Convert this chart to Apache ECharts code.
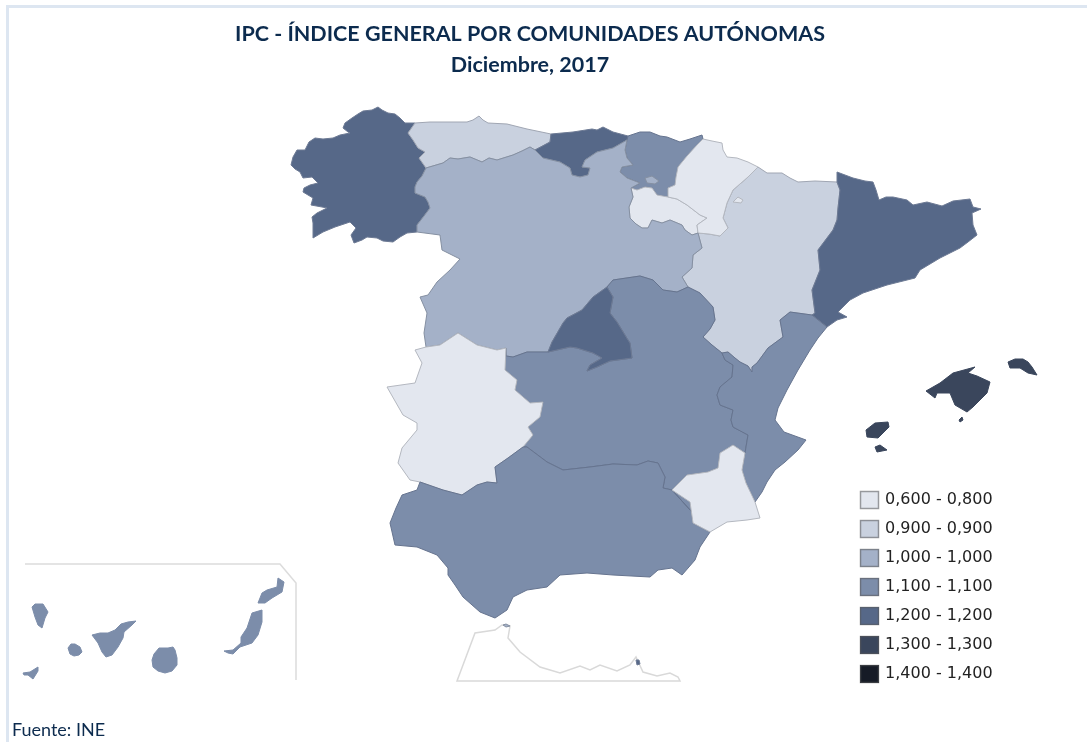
<!DOCTYPE html>
<html>
<head>
<meta charset="utf-8">
<title>IPC por comunidades</title>
<script src="https://cdn.jsdelivr.net/npm/echarts@6/dist/echarts.min.js"></script>
<style>
  html, body { margin: 0; padding: 0; background: #fff; }
  #chart { width: 1087px; height: 742px; }
</style>
</head>
<body>
<div id="chart"></div>
<script>
// chart values
const regionNames = ['Galicia', 'Asturias', 'Cantabria', 'País Vasco', 'La Rioja', 'Aragón', 'Navarra', 'Cataluña',
  'Castilla y León', 'Madrid', 'Castilla-La Mancha', 'C. Valenciana', 'Extremadura', 'Andalucía', 'Murcia',
  'Baleares', 'Canarias', 'Ceuta', 'Melilla'];
const regionValues = [1.2, 0.9, 1.2, 1.1, 0.8, 0.9, 0.8, 1.2, 1.0, 1.2, 1.1, 1.1, 0.8, 1.1, 0.8, 1.3, 1.1, 1.0, 1.2];
const pieceLabels = ['0,600 - 0,800', '0,900 - 0,900', '1,000 - 1,000', '1,100 - 1,100', '1,200 - 1,200', '1,300 - 1,300', '1,400 - 1,400'];
const pieceMins = [0.6, 0.9, 1.0, 1.1, 1.2, 1.3, 1.4];
const pieceMaxs = [0.8, 0.9, 1.0, 1.1, 1.2, 1.3, 1.4];
const pieceColors = ['#e3e7ef', '#c9d1df', '#a4b1c8', '#7c8daa', '#566888', '#3a465c', '#161b26'];
const pieceBorders = ['#b4b8c0', '#a0a6b3', '#8590a2', '#66748f', '#6d7a94', '#566176', '#161b26'];

// shared boundary lines of the base map
const coastGalicia = [[415,123],[405,123],[400,118],[395,114],[388,113],[382,110],[378,107],[372,110],[363,111],[358,114],[352,118],[345,123],[343,128],[348,132],[350,133],[340,135],[333,138],[323,139],[315,138],[309,142],[305,150],[297,150],[293,157],[291,165],[295,169],[300,172],[303,178],[312,177],[318,183],[310,185],[304,188],[303,192],[308,195],[313,198],[311,205],[322,207],[327,208],[317,213],[312,217],[313,223],[313,238],[323,232],[335,227],[350,222],[356,228],[351,235],[354,243],[362,240],[367,237],[377,238],[383,241],[393,242],[400,237],[407,233],[417,232]];
const galiciaCyl = [[417,232],[417,225],[424,216],[430,208],[428,202],[425,197],[415,193],[415,187],[417,182],[422,176],[426,168]];
const galiciaAsturias = [[426,168],[419,158],[425,152],[418,148],[413,140],[408,133],[415,123]];
const coastAsturias = [[415,123],[430,122],[447,122],[467,122],[473,120],[479,116],[483,120],[488,123],[507,124],[527,129],[551,134]];
const asturiasCantabria = [[551,134],[550,142],[535,150]];
const asturiasCyl = [[535,150],[530,147],[522,151],[513,155],[497,160],[489,158],[482,162],[470,157],[458,159],[450,158],[443,163],[426,168]];
const coastCantabria = [[551,134],[562,133],[573,132],[592,129],[597,130],[603,127],[613,132],[628,136],[627,140]];
const cantabriaCyl = [[627,140],[613,148],[597,152],[585,160],[582,167],[590,168],[588,175],[580,177],[572,175],[570,168],[560,162],[543,158],[535,150]];
const coastPaisVasco = [[628,136],[634,134],[640,132],[650,132],[660,136],[667,137],[680,142],[690,139],[702,135],[703,139]];
const paisVascoNavarra = [[703,139],[697,145],[687,156],[678,167],[676,177],[675,185],[668,188],[668,197]];
const paisVascoRioja = [[631,188],[637,190],[645,187],[652,188],[657,195],[668,197]];
const paisVascoCyl = [[627,140],[625,150],[627,158],[633,165],[622,167],[620,172],[627,178],[640,183],[631,188]];
const riojaNavarra = [[668,197],[677,199],[687,205],[700,215],[707,218],[697,225],[698,233]];
const riojaCyl = [[631,188],[633,197],[629,207],[630,218],[636,224],[642,228],[648,228],[652,220],[662,223],[670,220],[682,225],[685,230],[692,235],[698,233]];
const coastNavarra = [[703,139],[712,141],[722,143],[723,150],[727,157],[737,158],[748,162],[758,167]];
const navarraAragon = [[758,167],[748,177],[733,190],[727,203],[723,218],[728,228],[720,236],[709,234],[698,233]];
const northAragon = [[758,167],[767,173],[782,173],[790,178],[798,182],[815,181],[837,182]];
const aragonCataluna = [[837,182],[840,190],[838,208],[837,220],[833,230],[818,250],[820,270],[812,290],[815,313],[812,315]];
const aragonValencia = [[812,315],[790,312],[780,320],[783,337],[768,348],[757,363],[752,367],[752,372],[748,366],[740,362],[735,358],[728,352],[722,353]];
const aragonMancha = [[722,353],[712,345],[703,337],[710,329],[715,320],[713,307],[700,293],[688,287]];
const aragonCyl = [[688,287],[682,277],[692,268],[693,255],[702,248],[698,233]];
const northCataluna = [[837,182],[837,172],[845,175],[853,178],[865,181],[873,182],[876,190],[879,200],[886,197],[893,197],[907,200],[913,205],[927,202],[942,206],[953,201],[970,199],[973,207],[981,209],[972,213],[973,225],[977,235],[968,242],[960,248],[940,258],[920,270],[915,278],[887,285],[863,293],[850,300],[838,312],[847,317],[837,320],[827,327]];
const catalunaValencia = [[827,327],[812,315]];
const coastValencia = [[827,327],[818,338],[810,350],[798,370],[787,390],[778,408],[775,420],[784,432],[795,436],[806,440],[798,450],[785,462],[775,470],[767,482],[762,492],[755,502]];
const valenciaMurcia = [[745,453],[742,470],[746,483],[755,502]];
const valenciaMancha = [[722,353],[725,360],[733,365],[732,377],[720,387],[717,395],[720,405],[733,410],[731,420],[733,427],[748,435],[745,453]];
const manchaMurcia = [[672,490],[687,475],[708,472],[718,468],[720,453],[733,445],[745,453]];
const coastMurcia = [[755,502],[760,518],[747,520],[727,522],[710,532]];
const murciaAndalucia = [[710,532],[693,523],[690,502],[672,490]];
const manchaAndalucia = [[672,490],[663,488],[665,477],[658,463],[648,461],[637,465],[613,464],[590,467],[563,470],[547,462],[527,447],[523,447]];
const extremaduraMancha = [[506,348],[505,370],[517,380],[515,390],[530,403],[543,402],[540,417],[528,427],[533,435],[523,447]];
const extremaduraAndalucia = [[523,447],[508,458],[495,467],[497,483],[487,482],[477,485],[462,495],[443,490],[420,482]];
const westExtremadura = [[420,482],[410,480],[398,463],[402,448],[417,430],[417,423],[403,415],[387,387],[415,383],[422,363],[415,350],[426,347]];
const extremaduraCyl = [[426,347],[440,345],[458,333],[477,345],[497,350],[506,348]];
const coastAndalucia = [[710,532],[700,547],[695,560],[682,575],[672,568],[658,570],[650,577],[613,575],[587,573],[560,575],[547,587],[527,590],[513,597],[507,610],[495,618],[480,612],[463,597],[455,585],[448,575],[448,568],[437,555],[417,547],[395,545],[390,523],[396,508],[402,495],[417,490],[420,482]];
const westCyl = [[417,232],[440,235],[442,250],[460,259],[450,270],[437,282],[428,295],[420,297],[427,313],[424,333],[426,347]];
const cylMancha = [[506,348],[506,356],[513,357],[527,352],[548,352]];
const cylMadrid = [[548,352],[552,342],[563,323],[567,318],[582,310],[593,297],[607,287]];
const cylManchaEast = [[607,287],[613,280],[640,276],[653,280],[663,290],[677,292],[688,287]];
const madridMancha = [[548,352],[570,347],[577,348],[593,353],[602,358],[590,365],[587,371],[597,367],[610,361],[632,358],[630,343],[628,340],[617,322],[610,313],[613,297],[607,287]];

const trevino = [[645,178],[652,176],[659,181],[655,184],[647,183]];
const petilla = [[733,202],[738,197],[743,200],[741,203]];
const mallorca = [[926,391],[940,383],[953,373],[975,367],[968,373],[977,376],[990,382],[987,393],[973,407],[967,412],[955,405],[950,393],[937,393],[935,398]];
const menorca = [[1008,362],[1015,359],[1023,359],[1028,362],[1032,367],[1037,375],[1028,373],[1020,368],[1010,368]];
const cabrera = [[959,420],[962,417],[963,420],[960,422]];
const ibiza = [[866,430],[875,423],[888,422],[889,427],[884,432],[878,438],[867,437]];
const formentera = [[875,447],[880,445],[887,450],[877,452]];
const laPalma = [[32,607],[35,604],[43,604],[48,612],[45,618],[42,628],[38,625],[35,617]];
const gomera = [[68,648],[71,644],[75,644],[80,647],[82,652],[79,655],[74,656],[70,654]];
const hierro = [[23,673],[30,672],[38,667],[38,671],[33,679],[28,675],[24,675]];
const tenerife = [[92,635],[100,633],[108,633],[115,630],[121,624],[128,622],[136,621],[132,625],[124,632],[123,638],[118,647],[112,655],[106,657],[102,652],[98,643]];
const granCanaria = [[152,660],[154,654],[159,648],[163,648],[168,648],[173,647],[175,650],[177,658],[177,665],[172,671],[165,673],[158,671],[153,667]];
const fuerteventura = [[224,651],[233,650],[241,643],[241,637],[247,628],[252,613],[262,610],[262,622],[258,635],[252,643],[240,647],[233,654],[228,653]];
const lanzarote = [[258,603],[262,593],[267,590],[277,587],[278,578],[284,582],[282,592],[272,598],[265,603]];
const marruecos = [[457,681],[475,633],[495,630],[502,625],[510,626],[508,638],[520,652],[540,667],[560,673],[580,666],[590,670],[600,665],[617,671],[630,665],[636,657],[643,672],[657,676],[670,673],[678,677],[680,681]];
const ceuta = [[503,625],[506,624],[510,626],[506,627]];
const melilla = [[636,660],[639,660],[640,664],[637,665]];

const softEdgeRegions = ['Baleares', 'Canarias'];

const rev = a => a.slice().reverse();
const ring = (...parts) => parts.flat().map(p => [p[0], -p[1]]);
const feature = (name, ...rings) => ({
  type: 'Feature',
  properties: { name: name },
  geometry: { type: 'MultiPolygon', coordinates: rings.map(r => [r]) }
});

const features = [
  feature('Marruecos', ring(marruecos)),
  feature('Galicia', ring(coastGalicia, galiciaCyl, galiciaAsturias)),
  feature('Asturias', ring(coastAsturias, asturiasCantabria, asturiasCyl, galiciaAsturias)),
  feature('Cantabria', ring(coastCantabria, cantabriaCyl, rev(asturiasCantabria))),
  feature('País Vasco', ring(coastPaisVasco, paisVascoNavarra, rev(paisVascoRioja), rev(paisVascoCyl))),
  feature('La Rioja', ring(paisVascoRioja, riojaNavarra, rev(riojaCyl))),
  feature('Aragón', ring(northAragon, aragonCataluna, aragonValencia, aragonMancha, aragonCyl, rev(navarraAragon))),
  feature('Navarra', ring(coastNavarra, navarraAragon, rev(riojaNavarra), rev(paisVascoNavarra)), ring(petilla)),
  feature('Cataluña', ring(northCataluna, catalunaValencia, rev(aragonCataluna))),
  feature('Castilla y León', ring(westCyl, extremaduraCyl, cylMancha, cylMadrid, cylManchaEast, aragonCyl, rev(riojaCyl), rev(paisVascoCyl), cantabriaCyl, asturiasCyl, rev(galiciaCyl)), ring(trevino)),
  feature('Castilla-La Mancha', ring(cylMancha, madridMancha, cylManchaEast, rev(aragonMancha), valenciaMancha, rev(manchaMurcia), manchaAndalucia, rev(extremaduraMancha))),
  feature('Madrid', ring(cylMadrid, rev(madridMancha))),
  feature('C. Valenciana', ring(coastValencia, rev(valenciaMurcia), rev(valenciaMancha), rev(aragonValencia), rev(catalunaValencia))),
  feature('Extremadura', ring(extremaduraCyl, extremaduraMancha, extremaduraAndalucia, westExtremadura)),
  feature('Andalucía', ring(coastAndalucia, rev(extremaduraAndalucia), rev(manchaAndalucia), murciaAndalucia)),
  feature('Murcia', ring(manchaMurcia, valenciaMurcia, coastMurcia, murciaAndalucia)),
  feature('Baleares', ring(mallorca), ring(menorca), ring(cabrera), ring(ibiza), ring(formentera)),
  feature('Canarias', ring(laPalma), ring(gomera), ring(hierro), ring(tenerife), ring(granCanaria), ring(fuerteventura), ring(lanzarote)),
  feature('Ceuta', ring(ceuta)),
  feature('Melilla', ring(melilla))
];
echarts.registerMap('espana', { type: 'FeatureCollection', features: features });

const pieceIndex = v => pieceMins.findIndex((m, i) => v >= m && v <= pieceMaxs[i]);
const seriesData = regionNames.map((name, i) => {
  const k = pieceIndex(regionValues[i]);
  return {
    name: name,
    value: regionValues[i],
    itemStyle: {
      borderColor: softEdgeRegions.includes(name) ? pieceColors[k] : pieceBorders[k],
      borderWidth: 1
    }
  };
});

const titleColor = '#0c2b4e';
const myChart = echarts.init(document.getElementById('chart'), null, { renderer: 'canvas' });

const option = {
  animation: false,
  backgroundColor: '#fff',
  title: [
    { text: 'IPC - ÍNDICE GENERAL POR COMUNIDADES AUTÓNOMAS', left: 525, top: 18, textAlign: 'center',
      textStyle: { fontFamily: 'Lato', fontWeight: 'bold', fontSize: 21.5, color: titleColor } },
    { text: 'Diciembre, 2017', left: 525, top: 49, textAlign: 'center',
      textStyle: { fontFamily: 'Lato', fontWeight: 'bold', fontSize: 21.5, color: titleColor } },
    { text: 'Fuente: INE', left: 7, top: 716,
      textStyle: { fontFamily: 'Lato', fontWeight: 'normal', fontSize: 18, color: titleColor } }
  ],
  visualMap: {
    type: 'piecewise',
    orient: 'vertical',
    inverse: true,
    align: 'left',
    seriesIndex: 0,
    left: 860,
    top: 491,
    padding: 0,
    itemWidth: 19,
    itemHeight: 18,
    itemGap: 11,
    itemSymbol: 'rect',
    textGap: 6,
    selectedMode: false,
    hoverLink: false,
    outOfRange: { color: '#fff' },
    textStyle: { fontFamily: 'DejaVu Sans', fontSize: 16, color: '#222' },
    pieces: pieceLabels.map((label, i) => ({ gte: pieceMins[i], lte: pieceMaxs[i], label: label, color: pieceColors[i] }))
  },
  graphic: [
    { type: 'rect', silent: true, shape: { x: 6, y: 5, width: 1081, height: 3 }, style: { fill: '#dde6f1' } },
    { type: 'rect', silent: true, shape: { x: 6, y: 5, width: 3, height: 737 }, style: { fill: '#dde6f1' } },
    // frame round the Canary Islands inset
    { type: 'polyline', silent: true, shape: { points: [[25, 564], [280, 564], [296, 583], [296, 680]] },
      style: { fill: null, stroke: '#dcdcdc', lineWidth: 1.5 } }
  ].concat(pieceLabels.map((label, i) => ({
    type: 'rect', silent: true, z: 100,
    shape: { x: 860.5, y: 491.5 + i * 29, width: 18, height: 17 },
    style: { fill: null, stroke: 'rgba(90,90,90,0.55)', lineWidth: 1.5 }
  }))),
  series: [{
    type: 'map',
    map: 'espana',
    left: 0,
    top: 0,
    right: 0,
    bottom: 0,
    aspectScale: 1,
    boundingCoords: [[0, 0], [1087, -742]],
    roam: false,
    silent: true,
    label: { show: false },
    emphasis: { disabled: true },
    select: { disabled: true },
    itemStyle: { areaColor: '#fff', borderColor: '#d9d9d9', borderWidth: 1.5 },
    data: seriesData
  }]
};

myChart.setOption(option);
</script>
</body>
</html>
